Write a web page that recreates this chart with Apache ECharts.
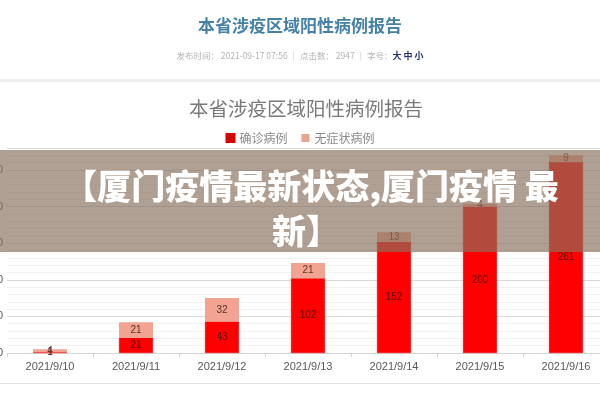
<!DOCTYPE html>
<html>
<head>
<meta charset="utf-8">
<script src="https://cdn.jsdelivr.net/npm/echarts@6/dist/echarts.min.js"></script>
<style>
html,body{margin:0;padding:0;background:#fff;}
#chart{width:600px;height:400px;}
</style>
</head>
<body>
<div id="chart"></div>
<script>
// ---- data ----
var categories = ['2021/9/10', '2021/9/11', '2021/9/12', '2021/9/13', '2021/9/14', '2021/9/15', '2021/9/16'];
var confirmed = [1, 21, 43, 102, 152, 200, 261];
var asymptomatic = [4, 21, 32, 21, 13, 4, 9];
var seriesNames = ['确诊病例', '无症状病例'];
var yTicks = [0, 50, 100, 150, 200, 250];

var pageTitle = '本省涉疫区域阳性病例报告';
var chartTitle = '本省涉疫区域阳性病例报告';
var bannerLine1 = '【厦门疫情最新状态,厦门疫情 最';
var bannerLine2 = '新】';

var chart = echarts.init(document.getElementById('chart'));
var option = {
  backgroundColor: '#ffffff',
  animation: false,
  legend: {
    top: 127,
    left: 'center',
    itemWidth: 8,
    itemHeight: 8,
    itemGap: 14,
    icon: 'rect',
    textStyle: { color: '#8a8a8a', fontSize: 12, fontFamily: 'Noto Sans CJK SC' },
    data: [
      { name: seriesNames[0], itemStyle: { color: '#c80a0a' } },
      { name: seriesNames[1], itemStyle: { color: '#e9a593' } }
    ]
  },
  grid: { left: 7, width: 602, top: 148, bottom: 47, containLabel: false, outerBoundsMode: 'none' },
  xAxis: {
    type: 'category',
    data: categories,
    boundaryGap: true,
    axisLine: { lineStyle: { color: '#d4d4d4' } },
    axisTick: { show: true, length: 4, lineStyle: { color: '#d4d4d4' } },
    axisLabel: { color: '#595959', fontSize: 11, margin: 8, fontFamily: 'Liberation Sans' }
  },
  yAxis: {
    type: 'value',
    min: 0,
    max: 280,
    interval: 50,
    axisLine: { show: false },
    axisTick: { show: false },
    axisLabel: { color: '#595959', fontSize: 11, margin: 4, fontFamily: 'Liberation Sans',
      formatter: function (v) { return yTicks.indexOf(v) >= 0 ? String(v) : ''; } },
    splitLine: { lineStyle: { color: '#d9d9d9' } },
    minorTick: { show: false, splitNumber: 5 },
    minorSplitLine: { show: true, lineStyle: { color: '#f1f1f1' } }
  },
  series: [
    {
      name: seriesNames[0],
      type: 'bar',
      stack: 'total',
      barWidth: 34,
      data: confirmed,
      itemStyle: { color: '#fe0000', borderColor: '#e00000', borderWidth: 0.5 },
      label: { show: true, position: 'inside', color: '#5a0d0d', fontSize: 10, fontFamily: 'Liberation Sans' }
    },
    {
      name: seriesNames[1],
      type: 'bar',
      stack: 'total',
      barWidth: 34,
      data: asymptomatic,
      itemStyle: { color: '#f2a391' },
      label: { show: true, position: 'inside', color: '#5e3326', fontSize: 10, fontFamily: 'Liberation Sans' }
    }
  ],
  graphic: [
    { type: 'text', left: 'center', top: 17, z: 10,
      style: { text: pageTitle, fill: '#4682a8', font: 'bold 17px "Noto Sans CJK SC"' } },
    { type: 'text', x: 300, y: 56, z: 10,
      style: {
        text: '{g|发布时间： 2021-09-17 07:56 ｜ 点击数： 2947 ｜ 字号：}{b|大 中 小}',
        textAlign: 'center', textVerticalAlign: 'middle',
        rich: {
          g: { fill: '#b3b3b3', fontSize: 8.5, fontFamily: 'Noto Sans CJK SC' },
          b: { fill: '#25306e', fontSize: 9, fontWeight: 'bold', fontFamily: 'Noto Sans CJK SC' }
        }
      } },
    { type: 'rect', shape: { x: 0, y: 79, width: 600, height: 3 }, z: 10, style: { fill: '#efefef' } },
    { type: 'text', x: 306, y: 109, z: 10,
      style: { text: chartTitle, fill: '#7a7a7a', textAlign: 'center', textVerticalAlign: 'middle',
        font: '19.5px "Noto Sans CJK SC"' } },
    { type: 'line', shape: { x1: 0, y1: 383.5, x2: 600, y2: 383.5 }, z: 10, style: { stroke: '#e2e2e2', lineWidth: 1 } },
    { type: 'rect', shape: { x: 0, y: 150, width: 600, height: 102 }, z: 100,
      style: { fill: 'rgba(136,112,93,0.667)' } },
    { type: 'text', x: 311, y: 186, z: 101,
      style: { text: bannerLine1, fill: '#ffffff', textAlign: 'center', textVerticalAlign: 'middle',
        font: '900 34px "Noto Sans CJK SC"' } },
    { type: 'text', x: 306, y: 231, z: 101,
      style: { text: bannerLine2, fill: '#ffffff', textAlign: 'center', textVerticalAlign: 'middle',
        font: '900 34px "Noto Sans CJK SC"' } }
  ]
};
chart.setOption(option);
</script>
</body>
</html>
